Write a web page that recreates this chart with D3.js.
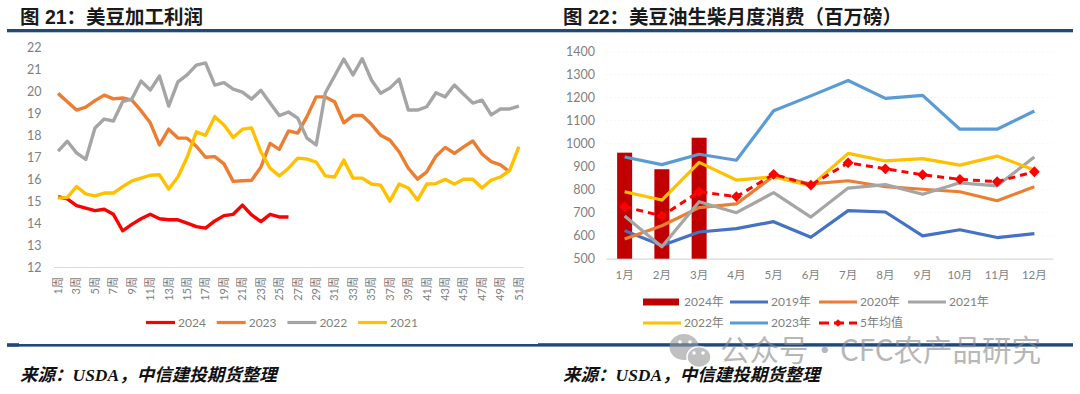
<!DOCTYPE html>
<html>
<head>
<meta charset="utf-8">
<script src="https://cdn.jsdelivr.net/npm/d3@7"></script>
<style>
  html, body { margin: 0; padding: 0; background: #fff; }
  svg { display: block; }
  text { font-family: Lato, "Noto Sans CJK SC", sans-serif; fill: #7f7f7f; }
  .title { font-family: "Liberation Sans", "Noto Sans CJK SC", sans-serif; font-weight: 700; font-size: 19.5px; fill: #1a1a1a; }
  .source { font-family: "Liberation Serif", "Noto Sans CJK SC", serif; font-weight: 700; font-style: italic; font-size: 17.5px; fill: #111; }
  .axis path, .axis line { stroke: #d9d9d9; }
</style>
</head>
<body>
<svg id="chart" width="1080" height="394"></svg>
<script>
// left chart: weekly crush margin
const weeks = d3.range(1, 52).map(w => w + '周')
const margin2024 = [15.2, 15.1, 14.8, 14.68, 14.57, 14.63, 14.4, 13.65, 13.94, 14.2, 14.4, 14.2, 14.15, 14.15, 14.0, 13.84, 13.77, 14.1, 14.34, 14.4, 14.82, 14.37, 14.07, 14.4, 14.28, 14.28]
const margin2023 = [19.91, 19.53, 19.15, 19.28, 19.58, 19.83, 19.66, 19.7, 19.6, 19.12, 18.57, 17.56, 18.28, 17.88, 17.87, 17.5, 17.0, 17.03, 16.7, 15.9, 15.93, 15.95, 16.55, 17.63, 17.36, 18.2, 18.1, 18.85, 19.75, 19.75, 19.53, 18.57, 18.9, 18.9, 18.5, 18.0, 17.78, 17.25, 16.5, 16.0, 16.33, 17.05, 17.45, 17.18, 17.47, 17.74, 17.15, 16.8, 16.65, 16.33]
const margin2022 = [17.28, 17.73, 17.2, 16.9, 18.33, 18.74, 18.65, 19.53, 19.65, 20.47, 20.06, 20.7, 19.33, 20.43, 20.75, 21.2, 21.3, 20.29, 20.4, 20.1, 19.97, 19.65, 20.05, 19.47, 18.9, 19.06, 18.78, 17.87, 17.56, 19.94, 20.7, 21.47, 20.75, 21.49, 20.52, 19.92, 20.15, 20.56, 19.15, 19.15, 19.3, 19.94, 19.75, 20.29, 19.87, 19.47, 19.6, 18.93, 19.2, 19.2, 19.33]
const margin2021 = [15.14, 15.17, 15.66, 15.33, 15.24, 15.37, 15.37, 15.66, 15.92, 16.05, 16.18, 16.2, 15.55, 16.1, 17.0, 18.16, 18.0, 18.85, 18.47, 17.9, 18.28, 18.33, 17.25, 16.5, 16.15, 16.5, 16.96, 16.92, 16.78, 16.15, 16.1, 16.87, 16.05, 16.05, 15.78, 15.73, 15.0, 15.78, 15.6, 15.05, 15.78, 15.8, 16.0, 15.78, 16.0, 16.0, 15.6, 15.96, 16.1, 16.4, 17.48]
const marginTicks = d3.range(12, 23)

// right chart: monthly soyoil biodiesel use
const months = d3.range(1, 13).map(m => m + '月')
const use2024 = [961, 889, 1026]
const use2019 = [622, 557, 616, 631, 661, 593, 709, 703, 599, 626, 592, 609]
const use2020 = [586, 643, 722, 738, 860, 825, 839, 813, 802, 791, 752, 813]
const use2021 = [686, 552, 748, 700, 787, 681, 807, 822, 780, 830, 817, 942]
const use2022 = [791, 755, 919, 842, 856, 816, 958, 925, 935, 907, 946, 886]
const use2023 = [942, 909, 954, 928, 1143, 1208, 1275, 1197, 1210, 1063, 1063, 1142]
const useAvg = [726, 686, 791, 770, 867, 820, 917, 891, 865, 845, 835, 878]
const useTicks = d3.range(500, 1401, 100)

const RED = '#ff0000'
const ORANGE = '#ed7d31'
const GRAY = '#a5a5a5'
const YELLOW = '#ffc000'
const NAVY = '#1f497d'

const svg = d3.select('#chart')

drawFrame()
drawMarginChart()
drawUseChart()
drawWatermark()

function drawFrame () {
  const rules = [
    [7, 1073, 29, 3.3],
    [7, 538, 344, 2.6],
    [7, 19, 343.2, 3.4],
    [538, 1073, 343.2, 3.4]
  ]
  rules.forEach(r => {
    svg.append('rect').attr('x', r[0]).attr('y', r[2]).attr('width', r[1] - r[0]).attr('height', r[3]).attr('fill', NAVY)
  })
  ;[[20, '图 21：美豆加工利润'], [563, '图 22：美豆油生柴月度消费（百万磅）']].forEach(t => {
    svg.append('text').attr('class', 'title').attr('x', t[0]).attr('y', 23.5).text(t[1])
    svg.append('text').attr('class', 'source').attr('x', t[0]).attr('y', 381).text('来源：USDA，中信建投期货整理')
  })
}

function drawLine (g, x, y, values, labels, color, width) {
  const line = d3.line()
    .x((d, i) => x(labels[i]) + x.bandwidth() / 2)
    .y(d => y(d))
  return g.append('path')
    .datum(values)
    .attr('fill', 'none')
    .attr('stroke', color)
    .attr('stroke-width', width)
    .attr('stroke-linejoin', 'round')
    .attr('d', line)
}

function drawMarginChart () {
  const g = svg.append('g')
  const x = d3.scaleBand().domain(weeks).range([53.5, 523.5])
  const y = d3.scaleLinear().domain([12, 22]).range([267, 47.5])

  const yAxis = g.append('g')
    .attr('class', 'axis')
    .attr('transform', 'translate(53.5,0)')
    .call(d3.axisLeft(y).tickValues(marginTicks).tickSize(0).tickPadding(12))
  yAxis.select('.domain').remove()
  yAxis.selectAll('text').attr('font-size', 12.5)

  const xAxis = g.append('g')
    .attr('class', 'axis')
    .attr('transform', 'translate(0,267)')
    .call(d3.axisBottom(x).tickValues(weeks.filter((d, i) => i % 2 === 0)).tickSize(0).tickSizeOuter(0))
  xAxis.select('.domain').attr('stroke-width', 1.2)
  xAxis.selectAll('text')
    .attr('font-size', 11)
    .attr('transform', 'rotate(-90)')
    .attr('text-anchor', 'end')
    .attr('x', -10)
    .attr('y', 0)
    .attr('dy', '0.35em')

  const series = [
    ['2024', margin2024, RED],
    ['2023', margin2023, ORANGE],
    ['2022', margin2022, GRAY],
    ['2021', margin2021, YELLOW]
  ]
  series.forEach(s => drawLine(g, x, y, s[1], weeks, s[2], 3.4))

  const legend = g.selectAll('g.legend').data(series).enter().append('g')
    .attr('class', 'legend')
    .attr('transform', (d, i) => 'translate(' + (146 + i * 70.7) + ',322.5)')
  legend.append('line').attr('x1', 0).attr('x2', 29).attr('stroke', d => d[2]).attr('stroke-width', 3.2)
  legend.append('text').attr('x', 32).attr('dy', '0.35em').attr('font-size', 12).text(d => d[0])
}

function drawUseChart () {
  const g = svg.append('g')
  const xc = d3.scaleBand().domain(months).range([606, 1053])
  const y = d3.scaleLinear().domain([500, 1400]).range([258.7, 51.7])

  // very faint grid
  g.append('g').selectAll('line').data(useTicks.slice(1)).enter().append('line')
    .attr('x1', 606).attr('x2', 1053)
    .attr('y1', d => y(d)).attr('y2', d => y(d))
    .attr('stroke', '#f7f7f7')
    .attr('stroke-dasharray', '2 2')

  const yAxis = g.append('g')
    .attr('class', 'axis')
    .attr('transform', 'translate(606,0)')
    .call(d3.axisLeft(y).tickValues(useTicks).tickFormat(d3.format('d')).tickSize(0).tickPadding(11))
  yAxis.select('.domain').remove()
  yAxis.selectAll('text').attr('font-size', 12.5)

  const xAxis = g.append('g')
    .attr('class', 'axis')
    .attr('transform', 'translate(0,258.7)')
    .call(d3.axisBottom(xc).tickSize(0).tickSizeOuter(0).tickPadding(12))
  xAxis.select('.domain').attr('stroke-width', 1.2)
  xAxis.selectAll('text').attr('font-size', 11.5)

  const barWidth = 15
  g.selectAll('rect.bar').data(use2024).enter().append('rect')
    .attr('class', 'bar')
    .attr('x', (d, i) => xc(months[i]) + xc.bandwidth() / 2 - barWidth / 2)
    .attr('y', d => y(d))
    .attr('width', barWidth)
    .attr('height', d => y(500) - y(d))
    .attr('fill', '#c00000')

  const lines = [
    ['2019年', use2019, '#4472c4'],
    ['2020年', use2020, ORANGE],
    ['2021年', use2021, GRAY],
    ['2022年', use2022, YELLOW],
    ['2023年', use2023, '#5b9bd5']
  ]
  lines.forEach(s => drawLine(g, xc, y, s[1], months, s[2], 3.2))

  drawLine(g, xc, y, useAvg, months, RED, 3).attr('stroke-dasharray', '7 5')
  const diamond = d3.symbol(d3.symbolSquare, 58)
  g.selectAll('path.avg').data(useAvg).enter().append('path')
    .attr('class', 'avg')
    .attr('d', diamond)
    .attr('fill', RED)
    .attr('transform', (d, i) => 'translate(' + (xc(months[i]) + xc.bandwidth() / 2) + ',' + y(d) + ') rotate(45)')

  // legend, two rows of four columns
  const legendItems = [['2024年', null, '#c00000']].concat(lines).concat([['5年均值', useAvg, RED]])
  const colX = [643, 730, 819, 908]
  const rowY = [302, 323]
  const legend = g.selectAll('g.legend').data(legendItems).enter().append('g')
    .attr('class', 'legend')
    .attr('transform', (d, i) => {
      const pos = i < 4 ? [colX[i], rowY[0]] : [colX[i - 4], rowY[1]]
      return 'translate(' + pos[0] + ',' + pos[1] + ')'
    })
  legend.each(function (d, i) {
    const item = d3.select(this)
    if (i === 0) {
      item.append('rect').attr('y', -3.5).attr('width', 36).attr('height', 7).attr('fill', d[2])
    } else {
      const l = item.append('line').attr('x1', 0).attr('x2', 38).attr('stroke', d[2]).attr('stroke-width', 3)
      if (d[0] === '5年均值') {
        l.attr('stroke-dasharray', '10 5')
        item.append('path').attr('d', d3.symbol(d3.symbolSquare, 30)).attr('fill', RED).attr('transform', 'translate(19,0) rotate(45)')
      }
    }
  })
  legend.append('text').attr('x', 41).attr('dy', '0.35em').attr('font-size', 12).text(d => d[0])
}

function drawWatermark () {
  const g = svg.append('g').attr('opacity', 0.62)
  g.append('ellipse').attr('cx', 684).attr('cy', 347).attr('rx', 14.5).attr('ry', 13).attr('fill', '#9a9a9a')
  g.append('ellipse').attr('cx', 699).attr('cy', 357).attr('rx', 12).attr('ry', 10.5).attr('fill', '#9a9a9a').attr('stroke', '#fff').attr('stroke-width', 1.5)
  ;[[680, 342], [690, 342], [694, 353], [703, 353]].forEach(p => {
    g.append('circle').attr('cx', p[0]).attr('cy', p[1]).attr('r', 1.8).attr('fill', '#fff')
  })
  ;[[720, '公众号'], [810, '·'], [840, 'CFC农产品研究']].forEach(t => {
    g.append('text')
      .attr('x', t[0])
      .attr('y', 361)
      .attr('font-size', 29.5)
      .style('font-family', '"Noto Sans CJK SC", sans-serif')
      .style('fill', '#8c8c8c')
      .text(t[1])
  })
}
</script>
</body>
</html>
